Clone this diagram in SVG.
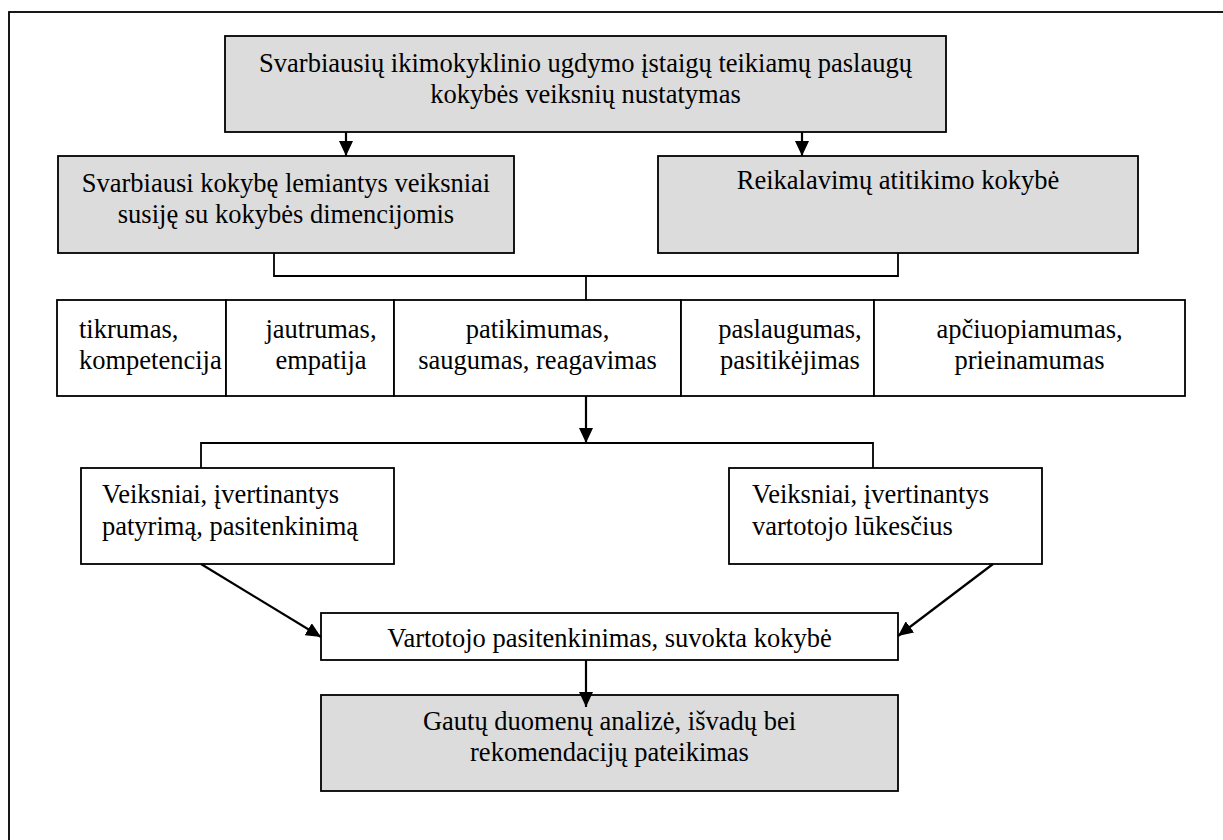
<svg xmlns="http://www.w3.org/2000/svg" width="1223" height="840" viewBox="0 0 1223 840">
  <style>
    .box { stroke: #000; stroke-width: 1.8; }
    .grey { fill: #dcdcdc; }
    .white { fill: #fff; }
    text { font-family: "Liberation Serif", "Times New Roman", serif; font-size: 26.5px; fill: #000; }
    .c { text-anchor: middle; }
    .wire { fill: none; stroke: #000; stroke-width: 1.8; }
    .arrow { fill: none; stroke: #000; stroke-width: 2.2; }
  </style>
  <defs>
    <marker id="head" markerUnits="userSpaceOnUse" markerWidth="16" markerHeight="14" refX="15" refY="7" orient="auto">
      <path d="M0,0 L15,7 L0,14 z" fill="#000"/>
    </marker>
  </defs>

  <rect width="1223" height="840" fill="#fff"/>
  <!-- page frame, running off the right and bottom edges -->
  <rect x="9" y="12" width="1240" height="860" fill="none" stroke="#000" stroke-width="1.8"/>

  <g id="n-top">
    <rect class="box grey" x="225" y="36" width="721" height="96"/>
    <text class="c" x="585.5" y="72">Svarbiausių ikimokyklinio ugdymo įstaigų teikiamų paslaugų</text>
    <text class="c" x="585.5" y="103">kokybės veiksnių nustatymas</text>
  </g>

  <g id="n-dimensions">
    <rect class="box grey" x="58" y="156" width="456" height="97"/>
    <text class="c" x="286" y="192">Svarbiausi kokybę lemiantys veiksniai</text>
    <text class="c" x="286" y="223">susiję su kokybės dimencijomis</text>
  </g>

  <g id="n-requirements">
    <rect class="box grey" x="658" y="156" width="480" height="97"/>
    <text class="c" x="898" y="189">Reikalavimų atitikimo kokybė</text>
  </g>

  <g id="n-tikrumas">
    <rect class="box white" x="57" y="300" width="169" height="96"/>
    <text x="79" y="338">tikrumas,</text>
    <text x="79" y="369">kompetencija</text>
  </g>
  <g id="n-jautrumas">
    <rect class="box white" x="226" y="300" width="168" height="96"/>
    <text class="c" x="321" y="338">jautrumas,</text>
    <text class="c" x="321" y="369">empatija</text>
  </g>
  <g id="n-patikimumas">
    <rect class="box white" x="394" y="300" width="287" height="96"/>
    <text class="c" x="537.5" y="338">patikimumas,</text>
    <text class="c" x="537.5" y="369">saugumas, reagavimas</text>
  </g>
  <g id="n-paslaugumas">
    <rect class="box white" x="681" y="300" width="193" height="96"/>
    <text class="c" x="790" y="338">paslaugumas,</text>
    <text class="c" x="790" y="369">pasitikėjimas</text>
  </g>
  <g id="n-apciuopiamumas">
    <rect class="box white" x="874" y="300" width="311" height="96"/>
    <text class="c" x="1029.5" y="338">apčiuopiamumas,</text>
    <text class="c" x="1029.5" y="369">prieinamumas</text>
  </g>

  <g id="n-experience">
    <rect class="box white" x="81" y="468" width="313" height="96"/>
    <text x="102" y="503">Veiksniai, įvertinantys</text>
    <text x="102" y="535">patyrimą, pasitenkinimą</text>
  </g>
  <g id="n-expectations">
    <rect class="box white" x="729" y="468" width="313" height="96"/>
    <text x="752" y="503">Veiksniai, įvertinantys</text>
    <text x="752" y="535">vartotojo lūkesčius</text>
  </g>

  <g id="n-satisfaction">
    <rect class="box white" x="321" y="613" width="577" height="47"/>
    <text class="c" x="609.5" y="647">Vartotojo pasitenkinimas, suvokta kokybė</text>
  </g>

  <g id="n-analysis">
    <rect class="box grey" x="321" y="695" width="577" height="96"/>
    <text class="c" x="609.5" y="730">Gautų duomenų analizė, išvadų bei</text>
    <text class="c" x="609.5" y="761">rekomendacijų pateikimas</text>
  </g>

  <g id="connectors">
    <line class="arrow" x1="346" y1="132" x2="346" y2="156" marker-end="url(#head)"/>
    <line class="arrow" x1="802" y1="132" x2="802" y2="156" marker-end="url(#head)"/>
    <polyline class="wire" points="274,253 274,276 898,276 898,253"/>
    <line class="wire" x1="586" y1="276" x2="586" y2="300"/>
    <line class="arrow" x1="586" y1="396" x2="586" y2="443" marker-end="url(#head)"/>
    <polyline class="wire" points="201,468 201,443 873,443 873,468"/>
    <line class="arrow" x1="201" y1="564" x2="321" y2="637" marker-end="url(#head)"/>
    <line class="arrow" x1="993" y1="564" x2="898" y2="636" marker-end="url(#head)"/>
    <line class="arrow" x1="586" y1="660" x2="586" y2="707" marker-end="url(#head)"/>
  </g>
</svg>
